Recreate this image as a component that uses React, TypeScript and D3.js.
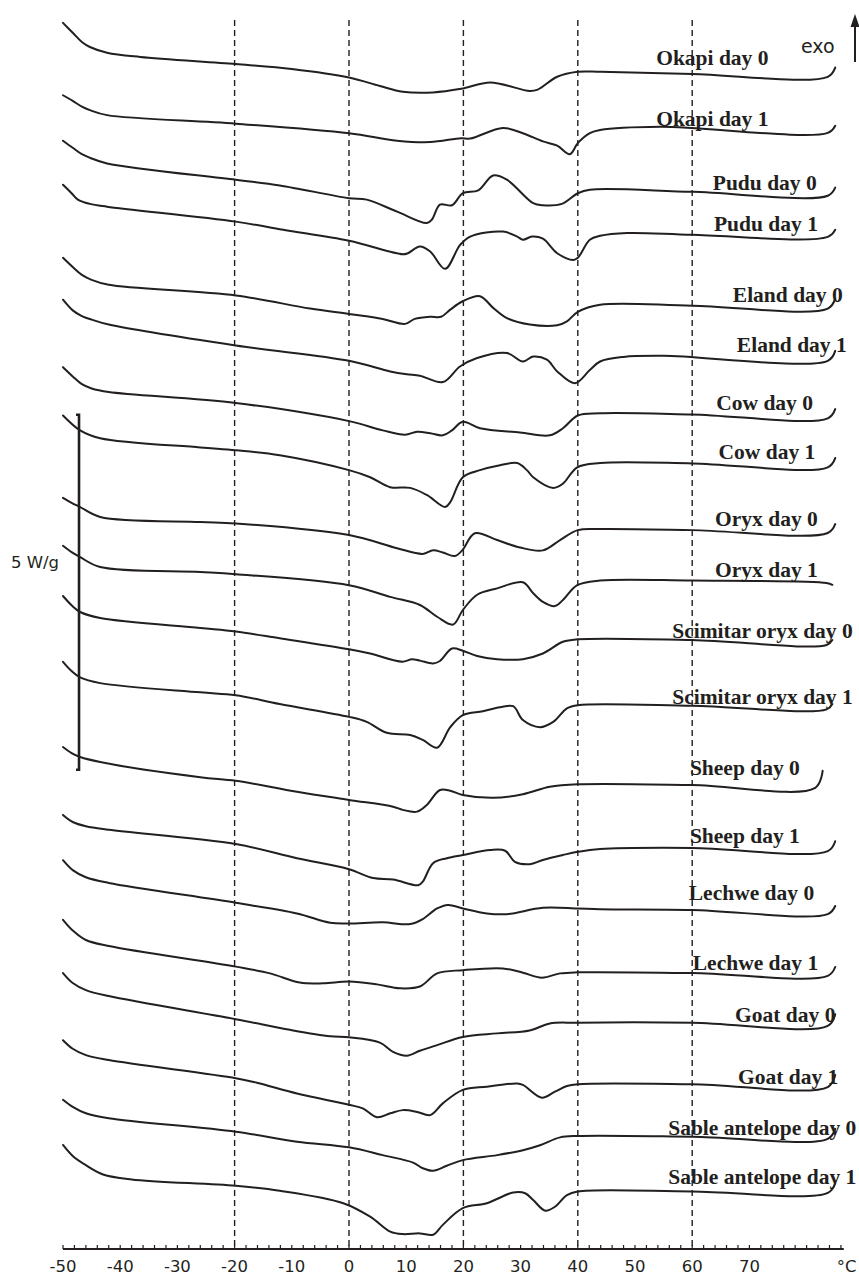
import React from 'react';
import * as d3 from 'd3';

// DSC thermograms, heat flow in W/g relative to each trace's own baseline
const labels = [
  'Okapi day 0', 'Okapi day 1', 'Pudu day 0', 'Pudu day 1', 'Eland day 0', 'Eland day 1',
  'Cow day 0', 'Cow day 1', 'Oryx day 0', 'Oryx day 1', 'Scimitar oryx day 0', 'Scimitar oryx day 1',
  'Sheep day 0', 'Sheep day 1', 'Lechwe day 0', 'Lechwe day 1', 'Goat day 0', 'Goat day 1',
  'Sable antelope day 0', 'Sable antelope day 1',
];

// vertical stacking of the traces (W/g)
const offsets = [16.58, 15.79, 14.92, 14.27, 13.3, 12.58, 11.77, 11.08, 10.14, 9.415,
  8.587, 7.66, 6.545, 5.634, 4.796, 3.897, 3.187, 2.331, 1.592, 0.81];

type Pt = [number, number]; // [temperature °C, heat flow W/g]

const okapiDay0: Pt[] = [[-50, 0.69], [-48.3, 0.55], [-46.7, 0.42], [-45.3, 0.35], [-42.3, 0.27], [-36.5, 0.21], [-19.8, 0.11], [-10, 0.04], [0, -0.08], [5.4, -0.2], [9.4, -0.28], [14.7, -0.29], [19.6, -0.24], [24.7, -0.15], [31.6, -0.27], [33, -0.25], [36.4, -0.07], [40, 0], [44, 0], [60, -0.03], [83.7, -0.07], [85, 0.06]];
const okapiDay1: Pt[] = [[-50, 0.46], [-48.3, 0.38], [-46.7, 0.3], [-45.3, 0.25], [-42.3, 0.18], [-19.8, 0.06], [0, -0.075], [8.4, -0.18], [14.2, -0.2], [19.6, -0.145], [21.2, -0.15], [26.9, 0], [30.4, -0.075], [33.9, -0.19], [36.4, -0.25], [38.6, -0.37], [40, -0.215], [42.1, -0.075], [43.9, -0.03], [54.4, 0.015], [83.7, -0.07], [85, 0.03]];
const puduDay0: Pt[] = [[-50, 0.69], [-48.3, 0.59], [-46.7, 0.5], [-45.3, 0.45], [-42.3, 0.37], [-19.8, 0.14], [-12.1, 0.06], [0, -0.12], [3.1, -0.14], [8.4, -0.31], [13.6, -0.47], [14.5, -0.42], [15.9, -0.21], [18, -0.22], [19.9, -0.05], [22.6, -0.01], [25.2, 0.2], [27.6, 0.14], [32.2, -0.19], [33.9, -0.22], [37.2, -0.2], [40, -0.05], [42.1, 0], [60, -0.03], [83.7, -0.085], [85, 0.03]];
const puduDay1: Pt[] = [[-50, 0.72], [-48.5, 0.6], [-47.4, 0.51], [-45.3, 0.45], [-42.3, 0.41], [-19.8, 0.2], [-11.5, 0.085], [0, -0.07], [9.4, -0.26], [10.3, -0.245], [12.4, -0.15], [14.2, -0.22], [16.8, -0.465], [19.4, -0.13], [21.2, -0.01], [26.9, 0.06], [29.4, -0.01], [30.4, -0.055], [32, -0.01], [33.9, -0.04], [36.4, -0.245], [39.2, -0.34], [40, -0.31], [42.1, -0.055], [43.9, 0], [48.6, 0.04], [60, 0.015], [83.7, -0.015], [85, 0.085]];
const elandDay0: Pt[] = [[-50, 0.66], [-48.3, 0.53], [-46.7, 0.42], [-45, 0.35], [-42, 0.28], [-19.8, 0.13], [-6.8, -0.055], [0, -0.13], [5.9, -0.2], [9.8, -0.27], [11.5, -0.2], [14.2, -0.17], [16.1, -0.17], [17.7, -0.07], [19.8, 0.045], [22.9, 0.12], [25.2, -0.045], [27.6, -0.19], [31.6, -0.28], [36.4, -0.29], [38.1, -0.235], [40, -0.1], [43.9, 0], [60, -0.015], [83.7, -0.055], [85, 0.085]];
const elandDay1: Pt[] = [[-50, 0.79], [-48.3, 0.64], [-46.7, 0.56], [-45, 0.51], [-42, 0.44], [-19.8, 0.145], [0, -0.07], [7.2, -0.22], [10.1, -0.26], [12.4, -0.28], [16.4, -0.37], [19.4, -0.15], [22.4, -0.03], [27.6, 0.04], [30.4, -0.08], [32.2, -0.01], [34.6, -0.055], [36.4, -0.22], [39.5, -0.385], [42.1, -0.2], [43.9, -0.08], [48, -0.015], [55, 0], [83.7, -0.07], [85, 0.07]];
const cowDay0: Pt[] = [[-50, 0.65], [-48.3, 0.52], [-46.7, 0.41], [-45, 0.35], [-42, 0.3], [-19.8, 0.145], [0, -0.11], [5.9, -0.24], [9.8, -0.3], [11.9, -0.26], [14.2, -0.28], [16.4, -0.31], [18, -0.24], [19.9, -0.12], [22.9, -0.21], [29.9, -0.27], [35.1, -0.31], [37.4, -0.21], [40, -0.03], [43.9, 0], [60, -0.015], [83.7, -0.07], [85, 0.06]];
const cowDay1: Pt[] = [[-50, 0.66], [-47, 0.45], [-43.5, 0.34], [-26, 0.21], [-19.8, 0.17], [-12.1, 0.1], [0, -0.11], [3.7, -0.21], [7.2, -0.35], [10.7, -0.36], [13.6, -0.46], [16.8, -0.63], [17.7, -0.56], [19.9, -0.21], [22.9, -0.11], [26.4, -0.04], [29.4, -0.01], [31.1, -0.11], [32.2, -0.21], [35.7, -0.36], [37.4, -0.3], [39.9, -0.07], [43.9, -0.01], [60, -0.015], [83.7, -0.07], [85, 0.06]];
const oryxDay0: Pt[] = [[-50, 0.44], [-48.5, 0.37], [-47, 0.31], [-43.5, 0.17], [-26, 0.1], [-19.8, 0.08], [0, -0.085], [8.4, -0.27], [12.9, -0.35], [14.7, -0.3], [16.4, -0.33], [18.5, -0.38], [19.8, -0.3], [22, -0.06], [25.9, -0.155], [29.9, -0.26], [33.9, -0.3], [36.9, -0.155], [40, -0.015], [43.9, 0], [60, -0.015], [83.7, -0.055], [85, 0.07]];
const oryxDay1: Pt[] = [[-50, 0.49], [-48.5, 0.4], [-47, 0.33], [-43.5, 0.19], [-26, 0.12], [-19.8, 0.09], [0, -0.065], [7.2, -0.23], [12.4, -0.345], [15.4, -0.51], [18.2, -0.62], [19.9, -0.415], [22.4, -0.2], [25.9, -0.11], [30.4, -0.025], [32.2, -0.18], [33.9, -0.3], [36, -0.36], [37.4, -0.275], [39.9, -0.065], [43.9, 0], [60, 0], [83.5, -0.035], [84.5, -0.06]];
const scimitarOryxDay0: Pt[] = [[-50, 0.61], [-48.5, 0.48], [-47, 0.385], [-43.5, 0.3], [-26, 0.16], [-19.8, 0.11], [-12.1, 0.015], [0, -0.14], [3.7, -0.2], [9.3, -0.315], [11, -0.28], [12.4, -0.3], [14.7, -0.34], [15.9, -0.305], [18, -0.13], [19.9, -0.16], [22.4, -0.235], [25.9, -0.28], [30.4, -0.28], [33.9, -0.2], [37.4, -0.035], [40, 0], [60, -0.01], [83.5, -0.08], [84.5, -0.01]];
const scimitarOryxDay1: Pt[] = [[-50, 0.61], [-48.5, 0.48], [-47, 0.39], [-43.5, 0.31], [-26, 0.18], [-19.8, 0.14], [-12.1, 0.015], [0, -0.165], [3.1, -0.235], [6.6, -0.39], [10.7, -0.42], [12.9, -0.49], [15.4, -0.6], [17.7, -0.31], [19.9, -0.14], [23.4, -0.085], [26.4, -0.03], [28.7, -0.015], [30.4, -0.21], [33.4, -0.31], [35.7, -0.235], [38.1, -0.045], [40, 0], [60, -0.01], [83.5, -0.06], [84.5, 0.015]];
const sheepDay0: Pt[] = [[-50, 0.525], [-48.5, 0.44], [-47, 0.385], [-43.5, 0.315], [-26, 0.1], [-19.8, 0.05], [-9.1, -0.105], [0, -0.22], [7.7, -0.315], [9.4, -0.36], [11.9, -0.385], [13.6, -0.29], [15.9, -0.08], [17.7, -0.09], [19.9, -0.15], [25.2, -0.19], [30.4, -0.14], [35.1, -0.035], [40, 0], [60, -0.01], [81.5, -0.05], [82.8, 0.19]];
const sheepDay1: Pt[] = [[-50, 0.48], [-48.3, 0.38], [-46, 0.32], [-42, 0.27], [-19.8, 0.07], [-9.1, -0.13], [0, -0.285], [4.2, -0.41], [7.7, -0.43], [12.1, -0.51], [12.9, -0.46], [14.7, -0.2], [17.1, -0.13], [19.9, -0.085], [24.7, -0.015], [27.3, -0.025], [29, -0.18], [31.6, -0.215], [33.9, -0.155], [37.4, -0.085], [40, -0.04], [43.9, 0], [60, 0.015], [83.7, -0.03], [85, 0.11]];
const lechweDay0: Pt[] = [[-50, 0.68], [-48.3, 0.54], [-46, 0.44], [-42, 0.36], [-19.8, 0.08], [-9.1, -0.07], [-3.3, -0.2], [0, -0.21], [5.9, -0.195], [10.7, -0.22], [12.9, -0.15], [15.4, 0], [17.3, 0.05], [19.9, 0], [24.1, -0.07], [27.6, -0.08], [33.9, 0.01], [40, 0], [43.9, -0.01], [60, -0.02], [83.7, -0.08], [85, 0.035]];
const lechweDay1: Pt[] = [[-50, 0.74], [-48.3, 0.59], [-46, 0.455], [-42, 0.37], [-19.8, 0.08], [-13.8, -0.015], [-8.6, -0.145], [-4.5, -0.155], [0, -0.13], [4.9, -0.17], [8.9, -0.225], [12.4, -0.2], [15.4, -0.015], [19.9, 0.03], [26.9, 0.055], [30.4, -0.005], [33.7, -0.075], [36.9, -0.015], [40, 0], [60, -0.01], [83.7, -0.05], [85, 0.075]];
const goatDay0: Pt[] = [[-50, 0.7], [-48.3, 0.56], [-46, 0.46], [-42, 0.375], [-19.8, 0.05], [-10.3, -0.1], [-3.3, -0.19], [0, -0.205], [5.4, -0.28], [7.7, -0.41], [10.1, -0.465], [12.4, -0.395], [15.4, -0.315], [19.9, -0.2], [25.9, -0.15], [31.6, -0.11], [35.1, -0.01], [40, 0], [60, 0], [83.7, -0.045], [85, 0.12]];
const goatDay1: Pt[] = [[-50, 0.61], [-48.3, 0.49], [-46, 0.4], [-42, 0.33], [-19.8, 0.075], [-16.1, 0.01], [-9.1, -0.14], [0, -0.3], [2.4, -0.35], [4.9, -0.475], [7.2, -0.42], [9.4, -0.375], [11.9, -0.4], [14.2, -0.445], [16.4, -0.28], [19.9, -0.09], [24.1, -0.045], [29.4, 0], [30.4, -0.02], [33.7, -0.2], [36, -0.115], [38.1, -0.035], [40, -0.01], [60, -0.01], [83.7, -0.05], [85, 0.12]];
const sableAntelopeDay0: Pt[] = [[-50, 0.51], [-48.3, 0.41], [-46, 0.32], [-42, 0.25], [-19.8, 0.06], [-9.1, -0.08], [0, -0.16], [5.9, -0.27], [11.2, -0.375], [12.9, -0.455], [14.7, -0.49], [17.1, -0.42], [19.9, -0.34], [25.9, -0.27], [30.4, -0.2], [33.4, -0.13], [36.9, -0.02], [40, 0], [60, -0.01], [83.7, -0.04], [85, 0.1]];
const sableAntelopeDay1: Pt[] = [[-50, 0.655], [-48.3, 0.5], [-46, 0.37], [-43, 0.24], [-38, 0.17], [-19.8, 0.08], [-12.1, 0.01], [-1, -0.165], [3.7, -0.355], [7.2, -0.565], [9.4, -0.6], [12.4, -0.59], [14.7, -0.61], [16.4, -0.47], [19.9, -0.235], [24.1, -0.165], [28.7, -0.015], [30.8, -0.025], [32.2, -0.12], [34.3, -0.27], [36, -0.215], [38.1, -0.05], [40, 0], [60, 0], [83.7, -0.02], [85, 0.12]];

const curves = [okapiDay0, okapiDay1, puduDay0, puduDay1, elandDay0, elandDay1, cowDay0, cowDay1,
  oryxDay0, oryxDay1, scimitarOryxDay0, scimitarOryxDay1, sheepDay0, sheepDay1, lechweDay0,
  lechweDay1, goatDay0, goatDay1, sableAntelopeDay0, sableAntelopeDay1];

const tickLabels = [-50, -40, -30, -20, -10, 0, 10, 20, 30, 40, 50, 60, 70];
const dashedTemps = [-20, 0, 20, 40, 60];
const scaleBarWg = 5;
const scaleBarBase = 6.75;

// label placement: start temperature and lift above the trace baseline (W/g)
const labelStartT = [53.7, 53.7, 63.6, 63.8, 67.1, 67.8, 64.2, 64.6, 64.0, 64.0, 56.5, 56.5, 59.6, 59.6, 59.4, 60.1, 67.5, 68.0, 55.8, 55.8];
const labelLift = [0.1, 0.02, 0, 0.07, 0.04, 0.055, 0.04, 0.04, 0.04, 0.05, 0.02, 0.015, 0.13, 0.085, 0.12, 0.03, 0.01, -0.01, 0.015, 0.105];

const W = 859;
const H = 1277;
const ink = '#231f20';
const sans = "'DejaVu Sans', 'Noto Sans', sans-serif";

const App: React.FC = () => {
  const x = d3.scaleLinear().domain([0, 60]).range([349, 692.2]);
  const y = d3.scaleLinear().domain([0, 5]).range([1249, 894]);
  const axisY = y(0);

  const line = (pts: Pt[], off: number) =>
    d3.line<Pt>()
      .x(d => x(d[0]))
      .y(d => y(d[1] + off))
      .curve(d3.curveCatmullRom.alpha(0.5))(pts) || '';

  const minorTicks = d3.range(-50, 87, 2);
  const barX = x(-47.2);

  return (
    <div style={{ position: 'absolute', left: 0, top: 0 }}>
      <svg width={W} height={H} style={{ display: 'block', background: '#fff' }}>
        {dashedTemps.map(t => (
          <line key={t} x1={x(t)} x2={x(t)} y1={20} y2={axisY - 3}
            stroke={ink} strokeWidth={1.4} strokeDasharray="6,4" />
        ))}

        {curves.map((c, i) => (
          <path key={labels[i]} d={line(c, offsets[i])} fill="none" stroke={ink}
            strokeWidth={2} strokeLinejoin="round" strokeLinecap="round" />
        ))}

        {labels.map((l, i) => (
          <text key={l} x={x(labelStartT[i])} y={y(offsets[i] + labelLift[i])}
            fontFamily="'Liberation Serif', 'Times New Roman', serif" fontWeight="bold"
            fontSize={21.5} fill={ink}>{l}</text>
        ))}

        {/* scale bar */}
        <path
          d={`M${barX - 3},${y(scaleBarBase + scaleBarWg)} H${barX} V${y(scaleBarBase)} H${barX - 3}`}
          fill="none" stroke={ink} strokeWidth={2.6} />
        <text x={11} y={568} fontFamily={sans} fontSize={16.5} fill={ink}>5 W/g</text>

        {/* exo arrow */}
        <text x={801} y={53} fontFamily={sans} fontSize={19} fill={ink}>exo</text>
        <line x1={855} x2={855} y1={62} y2={24} stroke={ink} strokeWidth={2} />
        <path d="M850.5,27 L859.5,27 L855,14 Z" fill={ink} />

        {/* temperature axis */}
        <line x1={x(-50)} x2={x(86.5)} y1={axisY} y2={axisY} stroke={ink} strokeWidth={2} />
        {minorTicks.map(t => (
          <line key={t} x1={x(t)} x2={x(t)} y1={axisY} y2={axisY - 4} stroke={ink} strokeWidth={1.2} />
        ))}
        {tickLabels.map(t => (
          <text key={t} x={x(t)} y={1272} textAnchor="middle"
            fontFamily={sans} fontSize={16.5} fill={ink}>{t}</text>
        ))}
        <text x={x(87)} y={1272} textAnchor="middle" fontFamily={sans} fontSize={16.5} fill={ink}>°C</text>
      </svg>
    </div>
  );
};

export default App;
